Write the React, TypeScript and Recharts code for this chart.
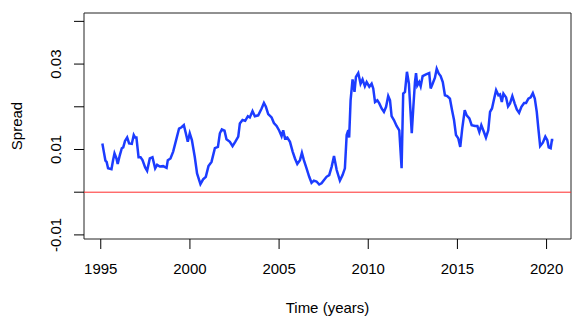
import React from 'react';
import { LineChart, Line, XAxis, YAxis, ReferenceLine, ReferenceArea } from 'recharts';

const years = [
  1995.09, 1995.17, 1995.26, 1995.33, 1995.41, 1995.60, 1995.69, 1995.77, 1995.88, 1995.95,
  1996.07, 1996.18, 1996.26, 1996.36, 1996.48, 1996.59, 1996.74, 1996.85, 1996.93, 1997.00,
  1997.12, 1997.23, 1997.34, 1997.49, 1997.60, 1997.75, 1997.90, 1998.05, 1998.16, 1998.31,
  1998.50, 1998.69, 1998.76, 1998.91, 1999.06, 1999.25, 1999.39, 1999.53, 1999.66, 1999.77,
  1999.88, 1999.99, 2000.11, 2000.27, 2000.40, 2000.59, 2000.74, 2000.89, 2001.04, 2001.21,
  2001.40, 2001.57, 2001.68, 2001.79, 2001.94, 2002.05, 2002.24, 2002.39, 2002.54, 2002.71,
  2002.80, 2002.95, 2003.10, 2003.25, 2003.36, 2003.51, 2003.64, 2003.83, 2004.02, 2004.15,
  2004.26, 2004.39, 2004.58, 2004.71, 2004.86, 2005.01, 2005.14, 2005.23, 2005.33, 2005.46,
  2005.61, 2005.76, 2005.89, 2006.02, 2006.17, 2006.28, 2006.39, 2006.54, 2006.69, 2006.82,
  2006.95, 2007.10, 2007.25, 2007.38, 2007.51, 2007.66, 2007.81, 2007.95, 2008.08, 2008.23,
  2008.41, 2008.56, 2008.69, 2008.79, 2008.88, 2008.93, 2009.01, 2009.12, 2009.23, 2009.31,
  2009.44, 2009.57, 2009.68, 2009.81, 2009.91, 2010.06, 2010.19, 2010.28, 2010.38, 2010.51,
  2010.62, 2010.75, 2010.88, 2011.00, 2011.12, 2011.22, 2011.31, 2011.44, 2011.59, 2011.74,
  2011.87, 2011.96, 2012.06, 2012.17, 2012.28, 2012.44, 2012.53, 2012.62, 2012.68, 2012.75,
  2012.86, 2012.94, 2013.05, 2013.24, 2013.42, 2013.50, 2013.61, 2013.74, 2013.84, 2013.95,
  2014.06, 2014.18, 2014.30, 2014.43, 2014.58, 2014.70, 2014.81, 2014.92, 2015.05, 2015.16,
  2015.27, 2015.41, 2015.52, 2015.67, 2015.80, 2015.99, 2016.12, 2016.23, 2016.34, 2016.45,
  2016.60, 2016.73, 2016.83, 2016.94, 2017.05, 2017.17, 2017.30, 2017.39, 2017.49, 2017.58,
  2017.73, 2017.84, 2017.95, 2018.08, 2018.21, 2018.33, 2018.46, 2018.59, 2018.74, 2018.85,
  2018.98, 2019.11, 2019.23, 2019.34, 2019.45, 2019.54, 2019.64, 2019.79, 2019.93, 2020.04,
  2020.12, 2020.23, 2020.30, 2020.38,
];

const spread = [
  0.0114, 0.0095, 0.0074, 0.0071, 0.0056, 0.0054, 0.0075, 0.0091, 0.0079, 0.0066,
  0.0087, 0.0103, 0.0105, 0.0120, 0.0128, 0.0114, 0.0113, 0.0134, 0.0128, 0.0128,
  0.0082, 0.0082, 0.0075, 0.0058, 0.0050, 0.0079, 0.0082, 0.0056, 0.0064, 0.0060,
  0.0061, 0.0057, 0.0075, 0.0079, 0.0095, 0.0126, 0.0149, 0.0152, 0.0157, 0.0138,
  0.0118, 0.0138, 0.0122, 0.0083, 0.0044, 0.0019, 0.0030, 0.0036, 0.0061, 0.0071,
  0.0103, 0.0106, 0.0138, 0.0147, 0.0144, 0.0124, 0.0118, 0.0108, 0.0118, 0.0130,
  0.0161, 0.0169, 0.0167, 0.0178, 0.0175, 0.0190, 0.0178, 0.0180, 0.0196, 0.0209,
  0.0200, 0.0183, 0.0175, 0.0162, 0.0155, 0.0144, 0.0131, 0.0145, 0.0126, 0.0128,
  0.0118, 0.0095, 0.0079, 0.0066, 0.0075, 0.0092, 0.0075, 0.0056, 0.0036, 0.0022,
  0.0027, 0.0025, 0.0018, 0.0021, 0.0028, 0.0036, 0.0040, 0.0060, 0.0085, 0.0052,
  0.0027, 0.0040, 0.0056, 0.0134, 0.0145, 0.0128, 0.0215, 0.0264, 0.0235, 0.0270,
  0.0279, 0.0254, 0.0264, 0.0248, 0.0258, 0.0247, 0.0254, 0.0243, 0.0211, 0.0215,
  0.0208, 0.0196, 0.0188, 0.0200, 0.0225, 0.0215, 0.0178, 0.0169, 0.0155, 0.0145,
  0.0056, 0.0231, 0.0235, 0.0282, 0.0254, 0.0138, 0.0200, 0.0258, 0.0279, 0.0250,
  0.0258, 0.0248, 0.0272, 0.0276, 0.0279, 0.0243, 0.0254, 0.0268, 0.0289, 0.0278,
  0.0272, 0.0258, 0.0227, 0.0225, 0.0219, 0.0192, 0.0169, 0.0134, 0.0126, 0.0106,
  0.0149, 0.0192, 0.0180, 0.0173, 0.0157, 0.0155, 0.0155, 0.0141, 0.0157, 0.0145,
  0.0128, 0.0145, 0.0188, 0.0196, 0.0217, 0.0239, 0.0227, 0.0229, 0.0211, 0.0231,
  0.0222, 0.0201, 0.0208, 0.0225, 0.0208, 0.0194, 0.0186, 0.0200, 0.0209, 0.0209,
  0.0219, 0.0222, 0.0232, 0.0219, 0.0188, 0.0149, 0.0108, 0.0116, 0.0130, 0.0122,
  0.0105, 0.0103, 0.0122, 0.0122,
];

const xTicks = [1995, 2000, 2005, 2010, 2015, 2020];
const yTicks = [-0.01, 0, 0.01, 0.02, 0.03, 0.04];
const yLabelled = ['-0.01', '0.01', '0.03'];

const xDomain: [number, number] = [1994.06, 2021.37];
const yDomain: [number, number] = [-0.01096, 0.04196];

const data = years.map((t, i) => ({ t, v: spread[i] }));

const FONT = '"Liberation Sans", Arial, Helvetica, sans-serif';

const fmtY = (v: number) => {
  const s = v.toFixed(2);
  return yLabelled.includes(s) ? s : '';
};

const XTick = (props: any) => {
  const { x, payload } = props;
  return (
    <text x={x} y={274} textAnchor="middle" fontFamily={FONT} fontSize={15} fill="#000">
      {String(payload.value)}
    </text>
  );
};

const YTick = (props: any) => {
  const { y, payload } = props;
  const label = fmtY(payload.value);
  if (!label) return <g />;
  const lx = 61;
  return (
    <text
      x={lx}
      y={y}
      transform={`rotate(-90 ${lx} ${y})`}
      textAnchor="middle"
      fontFamily={FONT}
      fontSize={15}
      fill="#000"
    >
      {label}
    </text>
  );
};

const XTitle = () => (
  <text x={327.5} y={313} textAnchor="middle" fontFamily={FONT} fontSize={15} fill="#000">
    Time (years)
  </text>
);

const YTitle = () => (
  <text
    x={21.5}
    y={126}
    transform="rotate(-90 21.5 126)"
    textAnchor="middle"
    fontFamily={FONT}
    fontSize={15}
    fill="#000"
  >
    Spread
  </text>
);

export default function App() {
  return (
    <div style={{ position: 'absolute', left: 0, top: 0, width: 572, height: 323, background: '#fff' }}>
      <LineChart
        width={572}
        height={323}
        data={data}
        margin={{ top: 13, right: 1, bottom: 0, left: 0 }}
      >
        <XAxis
          dataKey="t"
          type="number"
          domain={xDomain}
          allowDataOverflow
          ticks={xTicks}
          interval={0}
          tickSize={10}
          tickLine={{ stroke: '#000', strokeWidth: 1 }}
          axisLine={false}
          height={84}
          tick={<XTick />}
          label={<XTitle />}
        />
        <YAxis
          type="number"
          domain={yDomain}
          allowDataOverflow
          ticks={yTicks}
          interval={0}
          tickSize={10}
          tickLine={{ stroke: '#000', strokeWidth: 1 }}
          axisLine={false}
          width={84}
          tick={<YTick />}
          label={<YTitle />}
        />
        <ReferenceArea
          x1={xDomain[0]}
          x2={xDomain[1]}
          y1={yDomain[0]}
          y2={yDomain[1]}
          fill="none"
          stroke="#222"
          strokeWidth={1}
          ifOverflow="visible"
        />
        <ReferenceLine y={0} stroke="#ff2a2a" strokeWidth={1} />
        <Line
          type="linear"
          dataKey="v"
          stroke="#1c3cff"
          strokeWidth={2.5}
          dot={false}
          isAnimationActive={false}
        />
      </LineChart>
    </div>
  );
}
